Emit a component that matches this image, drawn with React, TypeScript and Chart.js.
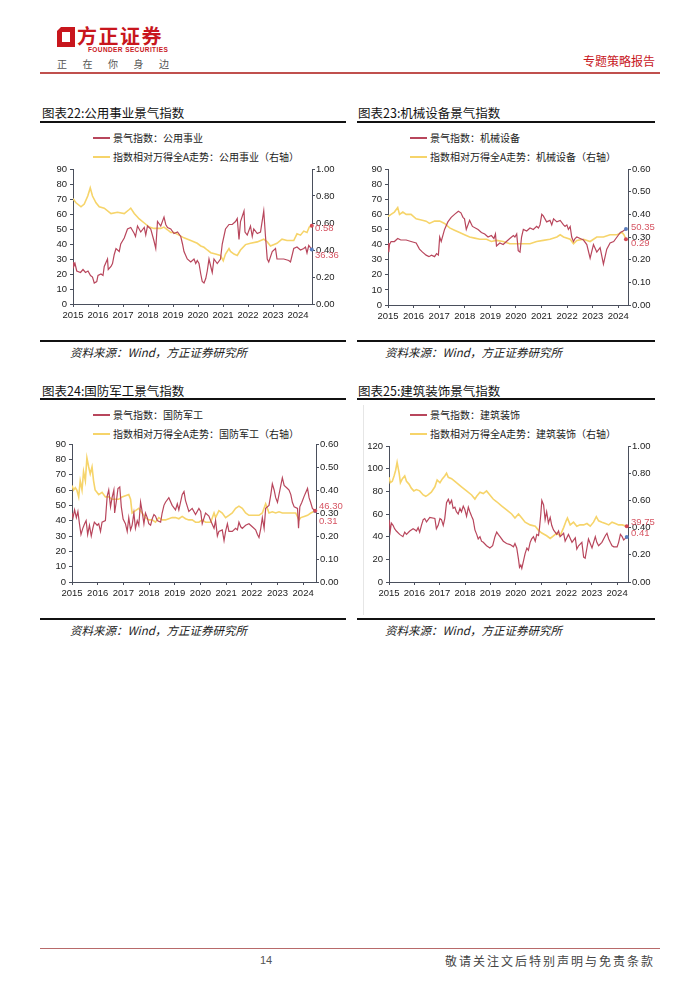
import React, { useEffect, useRef } from "react";
import { Chart, registerables } from "chart.js";

Chart.register(...registerables);

type Pt = [number, number];

const YEAR_TICKS = [2015, 2016, 2017, 2018, 2019, 2020, 2021, 2022, 2023, 2024];

// 图表22 公用事业
const UTIL_IDX: Pt[] = [
  [2015.0, 28], [2015.03, 25], [2015.08, 27], [2015.15, 22], [2015.3, 21], [2015.4, 23], [2015.5, 21], [2015.6, 22],
  [2015.7, 19], [2015.78, 18], [2015.85, 14], [2015.95, 15], [2016.0, 19], [2016.12, 20], [2016.2, 19], [2016.25, 25],
  [2016.38, 30], [2016.41, 23], [2016.52, 25], [2016.58, 27], [2016.65, 33], [2016.72, 37], [2016.85, 35], [2016.91, 40],
  [2017.05, 44], [2017.18, 50], [2017.31, 51], [2017.45, 47], [2017.5, 45], [2017.58, 52], [2017.71, 48], [2017.85, 51],
  [2017.91, 46], [2017.98, 52], [2018.11, 50], [2018.24, 42], [2018.31, 37], [2018.38, 55], [2018.51, 52], [2018.64, 58],
  [2018.71, 53], [2018.78, 51], [2018.91, 50], [2019.04, 47], [2019.18, 48], [2019.31, 45], [2019.38, 40], [2019.44, 35],
  [2019.57, 30], [2019.71, 28], [2019.84, 30], [2019.91, 27], [2019.97, 29], [2020.04, 27], [2020.11, 20], [2020.17, 15],
  [2020.24, 14], [2020.31, 17], [2020.37, 22], [2020.44, 30], [2020.51, 25], [2020.57, 21], [2020.64, 30], [2020.77, 27],
  [2020.9, 30], [2020.97, 40], [2021.1, 50], [2021.24, 53], [2021.37, 53], [2021.5, 55], [2021.57, 57], [2021.64, 43],
  [2021.7, 55], [2021.84, 62], [2021.88, 48], [2021.97, 46], [2022.1, 52], [2022.17, 45], [2022.23, 50], [2022.37, 47],
  [2022.5, 48], [2022.63, 62], [2022.7, 45], [2022.77, 30], [2022.83, 28], [2022.97, 35], [2023.1, 37], [2023.16, 30],
  [2023.43, 30], [2023.63, 29], [2023.7, 28], [2023.83, 37], [2023.96, 38], [2024.1, 36], [2024.23, 37], [2024.3, 38],
  [2024.36, 34], [2024.43, 39], [2024.55, 36.36],
];
const UTIL_REL: Pt[] = [
  [2015.0, 0.78], [2015.12, 0.75], [2015.32, 0.72], [2015.45, 0.74], [2015.59, 0.8], [2015.69, 0.86], [2015.78, 0.8],
  [2015.92, 0.75], [2016.05, 0.72], [2016.25, 0.71], [2016.52, 0.67], [2016.78, 0.68], [2017.05, 0.67], [2017.25, 0.7],
  [2017.31, 0.71], [2017.45, 0.67], [2017.65, 0.63], [2017.85, 0.6], [2018.05, 0.57], [2018.24, 0.56], [2018.51, 0.56],
  [2018.64, 0.57], [2018.78, 0.55], [2018.91, 0.53], [2019.04, 0.53], [2019.24, 0.51], [2019.44, 0.49], [2019.71, 0.47],
  [2019.97, 0.45], [2020.11, 0.43], [2020.24, 0.42], [2020.37, 0.4], [2020.51, 0.38], [2020.7, 0.37], [2020.9, 0.36],
  [2021.01, 0.32], [2021.1, 0.37], [2021.24, 0.41], [2021.3, 0.39], [2021.44, 0.37], [2021.57, 0.36], [2021.7, 0.4],
  [2021.9, 0.44], [2022.1, 0.45], [2022.37, 0.46], [2022.63, 0.48], [2022.77, 0.46], [2022.9, 0.43], [2023.16, 0.45],
  [2023.36, 0.48], [2023.56, 0.47], [2023.83, 0.47], [2023.96, 0.52], [2024.1, 0.51], [2024.23, 0.54], [2024.36, 0.53],
  [2024.45, 0.57], [2024.55, 0.58],
];

// 图表23 机械设备
const MACH_IDX: Pt[] = [
  [2015.0, 41], [2015.03, 35], [2015.06, 40], [2015.12, 42], [2015.25, 42], [2015.38, 44], [2015.5, 43], [2015.71, 43],
  [2015.9, 42], [2016.1, 41], [2016.23, 37], [2016.35, 35], [2016.49, 33], [2016.6, 32], [2016.7, 33], [2016.82, 32],
  [2016.9, 34], [2016.97, 33], [2017.02, 45], [2017.08, 42], [2017.21, 50], [2017.34, 55], [2017.47, 58], [2017.6, 60],
  [2017.75, 62], [2017.85, 61], [2017.93, 58], [2017.99, 57], [2018.06, 50], [2018.19, 56], [2018.3, 52], [2018.52, 50],
  [2018.65, 48], [2018.78, 47], [2018.91, 45], [2019.04, 46], [2019.14, 44], [2019.2, 47], [2019.24, 39], [2019.37, 41],
  [2019.5, 40], [2019.63, 42], [2019.76, 44], [2019.9, 46], [2019.96, 45], [2020.03, 47], [2020.09, 36], [2020.16, 35],
  [2020.22, 45], [2020.29, 50], [2020.42, 49], [2020.55, 51], [2020.68, 50], [2020.81, 52], [2020.88, 51], [2020.94, 53],
  [2021.01, 60], [2021.07, 59], [2021.2, 55], [2021.33, 56], [2021.4, 53], [2021.47, 57], [2021.6, 55], [2021.73, 56],
  [2021.86, 53], [2021.92, 52], [2021.99, 53], [2022.05, 50], [2022.12, 52], [2022.18, 45], [2022.25, 42], [2022.31, 44],
  [2022.38, 45], [2022.51, 44], [2022.64, 43], [2022.77, 40], [2022.9, 31], [2023.03, 40], [2023.16, 35], [2023.29, 38],
  [2023.42, 27], [2023.55, 37], [2023.68, 41], [2023.82, 42], [2023.95, 45], [2024.08, 48], [2024.19, 49], [2024.3, 50.35],
];
const MACH_REL: Pt[] = [
  [2015.0, 0.39], [2015.12, 0.4], [2015.25, 0.41], [2015.38, 0.43], [2015.45, 0.4], [2015.58, 0.41], [2015.71, 0.4],
  [2015.9, 0.4], [2016.1, 0.38], [2016.3, 0.375], [2016.49, 0.37], [2016.62, 0.36], [2016.82, 0.37], [2017.02, 0.37],
  [2017.21, 0.36], [2017.41, 0.34], [2017.6, 0.33], [2017.8, 0.32], [2017.99, 0.31], [2018.19, 0.3], [2018.39, 0.295],
  [2018.59, 0.29], [2018.85, 0.29], [2019.04, 0.28], [2019.24, 0.285], [2019.5, 0.28], [2019.76, 0.27], [2020.03, 0.27],
  [2020.29, 0.27], [2020.55, 0.27], [2020.81, 0.28], [2021.07, 0.285], [2021.33, 0.29], [2021.6, 0.3], [2021.73, 0.31],
  [2021.86, 0.3], [2022.12, 0.29], [2022.25, 0.27], [2022.38, 0.285], [2022.64, 0.29], [2022.9, 0.28], [2023.16, 0.3],
  [2023.42, 0.3], [2023.68, 0.31], [2023.95, 0.31], [2024.15, 0.32], [2024.22, 0.31], [2024.3, 0.29],
];

// 图表24 国防军工
const DEF_IDX: Pt[] = [
  [2015.0, 45], [2015.04, 42], [2015.1, 47], [2015.17, 42], [2015.23, 46], [2015.29, 38], [2015.35, 31], [2015.42, 35],
  [2015.49, 38], [2015.55, 40], [2015.61, 31], [2015.68, 37], [2015.75, 30], [2015.81, 35], [2015.87, 39], [2015.98, 37],
  [2016.04, 38], [2016.11, 33], [2016.17, 39], [2016.3, 40], [2016.37, 56], [2016.43, 60], [2016.5, 49], [2016.56, 55],
  [2016.63, 60], [2016.66, 45], [2016.73, 53], [2016.79, 61], [2016.86, 62], [2016.92, 49], [2016.99, 41], [2017.08, 38],
  [2017.15, 33], [2017.21, 42], [2017.28, 34], [2017.34, 37], [2017.41, 45], [2017.47, 35], [2017.54, 40], [2017.6, 37],
  [2017.67, 52], [2017.73, 46], [2017.8, 38], [2017.86, 45], [2017.93, 42], [2017.99, 38], [2018.06, 37], [2018.12, 41],
  [2018.19, 44], [2018.25, 43], [2018.32, 40], [2018.45, 39], [2018.51, 45], [2018.58, 50], [2018.64, 52], [2018.77, 55],
  [2018.9, 50], [2019.03, 47], [2019.1, 51], [2019.16, 47], [2019.29, 57], [2019.36, 59], [2019.42, 53], [2019.55, 46],
  [2019.68, 48], [2019.81, 44], [2019.94, 48], [2020.01, 46], [2020.07, 38], [2020.2, 45], [2020.33, 43], [2020.4, 40],
  [2020.53, 35], [2020.59, 40], [2020.66, 30], [2020.72, 33], [2020.85, 34], [2020.92, 27], [2020.98, 33], [2021.05, 38],
  [2021.11, 33], [2021.24, 33], [2021.37, 35], [2021.44, 34], [2021.5, 39], [2021.57, 36], [2021.63, 35], [2021.76, 37],
  [2021.89, 38], [2022.02, 36], [2022.15, 34], [2022.22, 31], [2022.28, 29], [2022.35, 35], [2022.41, 42], [2022.48, 35],
  [2022.54, 48], [2022.67, 50], [2022.74, 57], [2022.8, 64], [2022.87, 60], [2022.93, 55], [2023.0, 52], [2023.13, 63],
  [2023.19, 68], [2023.26, 63], [2023.39, 61], [2023.45, 60], [2023.52, 57], [2023.58, 52], [2023.65, 49], [2023.78, 48],
  [2023.82, 35], [2023.87, 49], [2023.95, 52], [2024.04, 56], [2024.17, 61], [2024.23, 55], [2024.29, 52], [2024.36, 48],
  [2024.47, 46.3],
];
const DEF_REL: Pt[] = [
  [2015.0, 0.42], [2015.06, 0.4], [2015.13, 0.41], [2015.19, 0.4], [2015.26, 0.37], [2015.32, 0.44], [2015.39, 0.4],
  [2015.45, 0.48], [2015.52, 0.44], [2015.58, 0.54], [2015.65, 0.5], [2015.71, 0.47], [2015.78, 0.5], [2015.84, 0.44],
  [2015.9, 0.4], [2016.04, 0.38], [2016.17, 0.39], [2016.3, 0.37], [2016.43, 0.37], [2016.56, 0.36], [2016.69, 0.36],
  [2016.82, 0.36], [2016.95, 0.37], [2017.08, 0.375], [2017.21, 0.38], [2017.28, 0.36], [2017.34, 0.3], [2017.47, 0.31],
  [2017.6, 0.32], [2017.73, 0.3], [2017.86, 0.28], [2017.99, 0.27], [2018.12, 0.27], [2018.25, 0.26], [2018.38, 0.28],
  [2018.51, 0.27], [2018.64, 0.27], [2018.77, 0.275], [2018.9, 0.28], [2019.03, 0.28], [2019.16, 0.275], [2019.29, 0.285],
  [2019.42, 0.275], [2019.55, 0.27], [2019.68, 0.27], [2019.81, 0.26], [2019.94, 0.26], [2020.07, 0.27], [2020.2, 0.26],
  [2020.4, 0.26], [2020.53, 0.3], [2020.59, 0.28], [2020.72, 0.31], [2020.85, 0.3], [2020.98, 0.28], [2021.11, 0.29],
  [2021.24, 0.3], [2021.37, 0.32], [2021.5, 0.33], [2021.63, 0.32], [2021.76, 0.3], [2021.89, 0.29], [2022.02, 0.29],
  [2022.15, 0.29], [2022.28, 0.29], [2022.41, 0.3], [2022.54, 0.34], [2022.61, 0.32], [2022.67, 0.3], [2022.8, 0.305],
  [2022.93, 0.3], [2023.06, 0.305], [2023.19, 0.3], [2023.32, 0.3], [2023.45, 0.3], [2023.58, 0.3], [2023.71, 0.3],
  [2023.84, 0.27], [2023.91, 0.28], [2024.04, 0.285], [2024.17, 0.29], [2024.3, 0.3], [2024.47, 0.31],
];

// 图表25 建筑装饰
const CONS_IDX: Pt[] = [
  [2015.0, 55], [2015.05, 45], [2015.09, 52], [2015.16, 50], [2015.22, 47], [2015.29, 45], [2015.42, 42], [2015.55, 40],
  [2015.62, 44], [2015.69, 42], [2015.82, 45], [2015.95, 47], [2016.02, 46], [2016.08, 45], [2016.15, 48], [2016.21, 44],
  [2016.28, 50], [2016.35, 55], [2016.41, 56], [2016.48, 53], [2016.61, 57], [2016.81, 56], [2016.87, 47], [2016.94, 50],
  [2017.01, 56], [2017.07, 55], [2017.14, 50], [2017.2, 56], [2017.27, 70], [2017.34, 73], [2017.4, 69], [2017.47, 72],
  [2017.53, 65], [2017.6, 66], [2017.66, 62], [2017.73, 60], [2017.8, 65], [2017.86, 62], [2017.93, 67], [2017.99, 64],
  [2018.06, 58], [2018.13, 66], [2018.19, 62], [2018.26, 58], [2018.32, 55], [2018.39, 46], [2018.46, 42], [2018.52, 38],
  [2018.59, 40], [2018.65, 36], [2018.72, 35], [2018.85, 32], [2018.98, 30], [2019.09, 32], [2019.18, 40], [2019.25, 44],
  [2019.31, 42], [2019.38, 40], [2019.51, 36], [2019.64, 34], [2019.78, 33], [2019.91, 31], [2019.97, 34], [2020.04, 30],
  [2020.11, 20], [2020.15, 13], [2020.2, 15], [2020.24, 12], [2020.3, 18], [2020.37, 25], [2020.44, 30], [2020.5, 28],
  [2020.57, 35], [2020.63, 38], [2020.7, 40], [2020.77, 36], [2020.83, 42], [2020.9, 41], [2020.94, 48], [2020.99, 60],
  [2021.03, 72], [2021.1, 68], [2021.16, 55], [2021.22, 62], [2021.29, 52], [2021.36, 57], [2021.42, 50], [2021.49, 46],
  [2021.62, 42], [2021.69, 45], [2021.75, 40], [2021.89, 43], [2021.95, 36], [2022.08, 42], [2022.22, 35], [2022.35, 39],
  [2022.41, 29], [2022.48, 32], [2022.61, 35], [2022.68, 22], [2022.74, 21], [2022.81, 30], [2022.87, 38], [2023.01, 30],
  [2023.14, 40], [2023.2, 35], [2023.27, 32], [2023.4, 35], [2023.54, 41], [2023.6, 43], [2023.67, 38], [2023.73, 35],
  [2023.8, 32], [2023.87, 31], [2024.0, 31], [2024.06, 35], [2024.13, 42], [2024.2, 40], [2024.26, 37], [2024.38, 39.75],
];
const CONS_REL: Pt[] = [
  [2015.0, 0.77], [2015.05, 0.73], [2015.13, 0.74], [2015.2, 0.78], [2015.26, 0.82], [2015.32, 0.88], [2015.4, 0.8],
  [2015.45, 0.73], [2015.53, 0.76], [2015.62, 0.78], [2015.69, 0.74], [2015.79, 0.72], [2015.88, 0.69], [2015.98, 0.67],
  [2016.08, 0.68], [2016.21, 0.67], [2016.35, 0.64], [2016.45, 0.63], [2016.54, 0.64], [2016.67, 0.66], [2016.81, 0.7],
  [2016.9, 0.75], [2017.01, 0.73], [2017.11, 0.76], [2017.2, 0.78], [2017.27, 0.8], [2017.34, 0.77], [2017.47, 0.76],
  [2017.66, 0.73], [2017.86, 0.7], [2018.06, 0.67], [2018.26, 0.64], [2018.39, 0.61], [2018.46, 0.63], [2018.59, 0.66],
  [2018.72, 0.65], [2018.85, 0.67], [2018.98, 0.64], [2019.11, 0.61], [2019.25, 0.59], [2019.44, 0.56], [2019.64, 0.53],
  [2019.84, 0.5], [2019.97, 0.47], [2020.11, 0.5], [2020.24, 0.47], [2020.37, 0.44], [2020.57, 0.42], [2020.77, 0.41],
  [2020.9, 0.38], [2021.03, 0.36], [2021.22, 0.34], [2021.36, 0.32], [2021.49, 0.34], [2021.62, 0.36], [2021.75, 0.34],
  [2021.89, 0.4], [2021.99, 0.45], [2022.04, 0.47], [2022.15, 0.42], [2022.28, 0.44], [2022.41, 0.41], [2022.54, 0.42],
  [2022.68, 0.42], [2022.81, 0.43], [2022.94, 0.41], [2023.07, 0.44], [2023.18, 0.48], [2023.27, 0.45], [2023.4, 0.44],
  [2023.54, 0.43], [2023.67, 0.42], [2023.8, 0.44], [2023.93, 0.43], [2024.06, 0.42], [2024.2, 0.42], [2024.38, 0.41],
];

const TITLES = ["图表22:公用事业景气指数", "图表23:机械设备景气指数", "图表24:国防军工景气指数", "图表25:建筑装饰景气指数"];
const SECTORS = ["公用事业", "机械设备", "国防军工", "建筑装饰"];
const SOURCE = "资料来源：Wind，方正证券研究所";

const RED = "#b8465c";
const YELLOW = "#f6d46a";
const LABEL_RED = "#d65563";
const AXIS = "#4a4f5c";
const TICK_FONT = '"Liberation Sans", Arial, sans-serif';
const CJK = '"Noto Sans CJK SC", "Noto Sans", sans-serif';

type ChartCfg = {
  left: number; top: number; w: number; h: number;
  leftW: number; rightW: number; padTop: number; xH: number;
  xMax: number; yMax: number; yStep: number; y1Max: number;
  idx: Pt[]; rel: Pt[]; dy: [number, number];
};

const CFGS: ChartCfg[] = [
  { left: 30, top: 160, w: 320, h: 170, leftW: 43, rightW: 38, padTop: 9, xH: 26, xMax: 2024.56, yMax: 90, yStep: 10, y1Max: 1, idx: UTIL_IDX, rel: UTIL_REL, dy: [6, 3] },
  { left: 350, top: 160, w: 320, h: 170, leftW: 38, rightW: 42, padTop: 9, xH: 25, xMax: 2024.38, yMax: 90, yStep: 10, y1Max: 0.6, idx: MACH_IDX, rel: MACH_REL, dy: [-2, 4] },
  { left: 30, top: 435, w: 320, h: 170, leftW: 42, rightW: 34, padTop: 9, xH: 23, xMax: 2024.5, yMax: 90, yStep: 10, y1Max: 0.6, idx: DEF_IDX, rel: DEF_REL, dy: [-5, 11] },
  { left: 350, top: 435, w: 320, h: 170, leftW: 39, rightW: 42, padTop: 11, xH: 23, xMax: 2024.43, yMax: 120, yStep: 20, y1Max: 1, idx: CONS_IDX, rel: CONS_REL, dy: [-15, 7] },
];

function endLabels(dy: [number, number]) {
  return {
    id: "endLabels",
    afterDatasetsDraw(chart: any) {
      const { ctx, chartArea } = chart;
      chart.data.datasets.forEach((ds: any, i: number) => {
        const meta = chart.getDatasetMeta(i);
        const el = meta.data[meta.data.length - 1];
        const val = ds.data[ds.data.length - 1].y as number;
        ctx.save();
        ctx.fillStyle = i === 0 ? "#5b7fbf" : "#d34a55";
        ctx.beginPath();
        ctx.arc(el.x, el.y, 2, 0, Math.PI * 2);
        ctx.fill();
        ctx.fillStyle = LABEL_RED;
        ctx.font = `9.5px ${TICK_FONT}`;
        ctx.textBaseline = "middle";
        ctx.textAlign = "left";
        ctx.fillText(val.toFixed(2), chartArea.right + 3, el.y + dy[i]);
        ctx.restore();
      });
    },
  };
}

function DualChart({ cfg }: { cfg: ChartCfg }) {
  const ref = useRef<HTMLCanvasElement>(null);
  useEffect(() => {
    const canvas = ref.current!;
    const tickFont = { family: TICK_FONT, size: 9.5 };
    const chart = new Chart(canvas, {
      type: "line",
      data: {
        datasets: [
          {
            data: cfg.idx.map(([x, y]) => ({ x, y })),
            borderColor: RED, borderWidth: 1.2, pointRadius: 0, tension: 0, yAxisID: "y",
          },
          {
            data: cfg.rel.map(([x, y]) => ({ x, y })),
            borderColor: YELLOW, borderWidth: 1.6, pointRadius: 0, tension: 0, yAxisID: "y1",
          },
        ],
      },
      options: {
        responsive: false,
        animation: false,
        devicePixelRatio: 1,
        layout: { padding: { top: cfg.padTop, left: 0, right: 0, bottom: 0 } },
        plugins: { legend: { display: false }, tooltip: { enabled: false } },
        scales: {
          x: {
            type: "linear", min: 2015, max: cfg.xMax,
            afterBuildTicks: (s: any) => { s.ticks = YEAR_TICKS.map((v) => ({ value: v })); },
            afterFit: (s: any) => { s.height = cfg.xH; },
            ticks: { font: tickFont, color: "#222", padding: 3, maxRotation: 0, autoSkip: false, callback: (v: any) => String(v) },
            grid: { drawOnChartArea: false, drawTicks: true, tickLength: 3, color: AXIS },
            border: { color: AXIS, width: 1 },
          },
          y: {
            position: "left", min: 0, max: cfg.yMax,
            afterFit: (s: any) => { s.width = cfg.leftW; },
            ticks: { stepSize: cfg.yStep, font: tickFont, color: "#222", padding: 3 },
            grid: { drawOnChartArea: false, drawTicks: true, tickLength: 3, color: AXIS },
            border: { color: AXIS, width: 1 },
          },
          y1: {
            position: "right", min: 0, max: cfg.y1Max,
            afterFit: (s: any) => { s.width = cfg.rightW; },
            ticks: { stepSize: 0.1, font: tickFont, color: "#222", padding: 1, callback: (v: any) => Number(v).toFixed(2) },
            grid: { drawOnChartArea: false, drawTicks: true, tickLength: 3, color: AXIS },
            border: { color: AXIS, width: 1 },
          },
        },
      },
      plugins: [endLabels(cfg.dy)],
    } as any);
    return () => chart.destroy();
  }, [cfg]);
  return (
    <canvas
      ref={ref}
      width={cfg.w}
      height={cfg.h}
      style={{ position: "absolute", left: cfg.left, top: cfg.top, width: cfg.w, height: cfg.h }}
    />
  );
}

const abs = (s: React.CSSProperties): React.CSSProperties => ({ position: "absolute", whiteSpace: "nowrap", ...s });

function Legend({ x, y, sector }: { x: number; y: number; sector: string }) {
  const rows = [
    { color: RED, h: 1.5, text: `景气指数：${sector}` },
    { color: YELLOW, h: 2, text: `指数相对万得全A走势：${sector}（右轴）` },
  ];
  return (
    <>
      {rows.map((r, i) => (
        <React.Fragment key={i}>
          <div style={abs({ left: x, top: y + i * 19 - r.h / 2, width: 17, height: r.h, background: r.color })} />
          <div style={abs({ left: x + 20, top: y + i * 19 - 7, height: 14, lineHeight: "14px", fontSize: 10, fontFamily: CJK, color: "#222" })}>{r.text}</div>
        </React.Fragment>
      ))}
    </>
  );
}

function Panel({ i }: { i: number }) {
  const isRight = i % 2 === 1;
  const isBottom = i >= 2;
  const lineX = isRight ? 357 : 40;
  const lineW = isRight ? 298 : 306;
  const titleY = isBottom ? 383 : 105;
  const titleLine = isBottom ? 398 : 121;
  const legendY = isBottom ? 415 : 138;
  const srcLine = isBottom ? 618 : 340;
  return (
    <>
      <div style={abs({ left: isRight ? 358 : 42, top: titleY, fontSize: 12.5, lineHeight: "15px", fontFamily: CJK, color: "#111" })}>{TITLES[i]}</div>
      <div style={abs({ left: lineX, top: titleLine, width: lineW, height: 1.5, background: "#111" })} />
      <Legend x={isRight ? 410 : 93} y={legendY} sector={SECTORS[i]} />
      <DualChart cfg={CFGS[i]} />
      <div style={abs({ left: lineX, top: srcLine, width: lineW, height: 1.5, background: "#111" })} />
      <div style={abs({ left: isRight ? 385 : 70, top: srcLine + 5, fontSize: 11.5, lineHeight: "15px", fontStyle: "italic", fontFamily: CJK, color: "#222" })}>{SOURCE}</div>
    </>
  );
}

export default function App() {
  return (
    <div style={{ position: "absolute", left: 0, top: 0, width: 700, height: 990, background: "#fff", overflow: "hidden" }}>
      {/* header */}
      <svg style={{ position: "absolute", left: 57, top: 27 }} width={18} height={20} viewBox="0 0 18 20">
        <path d="M4 0 H18 V20 H0 V4 Z M5 5 V15 H13 V5 Z" fill="#c8161d" fillRule="evenodd" />
      </svg>
      <div style={abs({ left: 77, top: 24, fontSize: 20, lineHeight: "24px", fontWeight: "bold", letterSpacing: 1.5, fontFamily: CJK, color: "#c8161d" })}>方正证券</div>
      <div style={abs({ left: 88, top: 46, fontSize: 6.5, lineHeight: "8px", fontWeight: "bold", letterSpacing: 0.4, fontFamily: TICK_FONT, color: "#c8161d" })}>FOUNDER SECURITIES</div>
      <div style={abs({ left: 57, top: 57, fontSize: 10, lineHeight: "13px", letterSpacing: 15.5, fontFamily: CJK, color: "#555" })}>正在你身边</div>
      <div style={abs({ left: 583, top: 53, fontSize: 12, lineHeight: "15px", fontFamily: CJK, color: "#c8161d" })}>专题策略报告</div>
      <div style={abs({ left: 40, top: 72, width: 620, height: 1.5, background: "#c0504d" })} />

      {[0, 1, 2, 3].map((i) => <Panel key={i} i={i} />)}

      <div style={abs({ left: 363, top: 405, width: 1, height: 210, background: "#e6e6e6" })} />

      {/* footer */}
      <div style={abs({ left: 40, top: 948, width: 620, height: 1, background: "#b86a6a" })} />
      <div style={abs({ left: 260, top: 953, fontSize: 11, lineHeight: "14px", fontFamily: TICK_FONT, color: "#555" })}>14</div>
      <div style={abs({ left: 445, top: 953, fontSize: 12, lineHeight: "15px", letterSpacing: 2, fontFamily: CJK, color: "#444" })}>敬请关注文后特别声明与免责条款</div>
    </div>
  );
}
